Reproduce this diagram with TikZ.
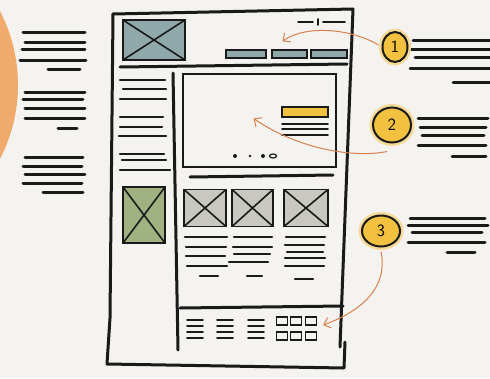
\documentclass[tikz,border=0pt]{standalone}
\usepackage{tikz}
\usetikzlibrary{arrows.meta,shapes.geometric}

\definecolor{paper}{HTML}{F4F3EF}
\definecolor{ink}{HTML}{1A1A1A}
\definecolor{slate}{HTML}{8FA9AB}
\definecolor{sage}{HTML}{A0B281}
\definecolor{stone}{HTML}{C9C8C0}
\definecolor{mustard}{HTML}{F2C13F}
\definecolor{glow}{HTML}{F8DA98}
\definecolor{rust}{HTML}{D8814F}
\definecolor{peach}{HTML}{F0AB6C}

\begin{document}
\begin{tikzpicture}[x=1pt,y=-1pt,
  frame/.style={ink,line width=3pt,line cap=round,line join=round},
  bar/.style={ink,line width=3pt,line cap=round},
  midbar/.style={ink,line width=2.3pt,line cap=round},
  thinbar/.style={ink,line width=1.6pt,line cap=round},
  ximg/.style={draw=ink,line width=1.8pt,inner sep=0pt,
    path picture={\draw[ink,line width=1.6pt]
      (path picture bounding box.south west) -- (path picture bounding box.north east)
      (path picture bounding box.north west) -- (path picture bounding box.south east);}},
  navbtn/.style={draw=ink,fill=slate,line width=1.3pt,inner sep=0pt,minimum height=8pt},
  tile/.style={draw=ink,line width=1.2pt,inner sep=0pt,minimum width=11pt,minimum height=8pt},
  badge/.style={ellipse,draw=ink,fill=mustard,line width=2pt,inner sep=0pt,
    font=\sffamily\LARGE,preaction={draw=glow,line width=7pt}},
  callout/.style={rust,line width=1pt,-{Straight Barb[length=6pt,width=11pt]}}]

% paper
\fill[paper] (0,0) rectangle (490,378);
\useasboundingbox (0,0) rectangle (490,378);
\clip (0,0) rectangle (490,378);
\fill[peach] (-142,85) circle (160);

% notes left and right
\foreach \y/\a/\b in {32/23/85,42/25/85,49/22/85,60/20/86,69/48/80,
  92/25/85,99/23/83,108/25/85,118/25/85,128/58/77,
  157/25/83,166/23/82,174/25/85,183/23/82,192/43/83}
  \draw[bar] (\a,\y) -- (\b,\y);
\foreach \y/\a/\b in {40/413/490,49/410/490,57/415/490,68/410/490,82/453/490,
  118/418/488,127/420/486,135/422/484,145/418/486,156/452/486,
  218/410/485,225/408/488,232/412/482,242/408/485,252/447/475}
  \draw[bar] (\a,\y) -- (\b,\y);

% page
\draw[frame] (113,14) -- (353,9) -- (340,347);
\draw[frame] (345,342) -- (344,368) -- (107,364) -- (110,318) -- (113,14);
\draw[frame] (120,67) -- (347,64);
\draw[frame] (173,73) -- (178,350);
\draw[frame] (180,308) -- (343,306);

% header
\node[ximg,fill=slate,minimum width=62pt,minimum height=40pt] (logo) at (154,40) {};
\node[navbtn,minimum width=40pt] (nav1) at (246,54) {};
\node[navbtn,minimum width=35pt] (nav2) at (289.5,54) {};
\node[navbtn,minimum width=36pt] (nav3) at (329,54) {};
\draw[thinbar] (298,22) -- (313,22) (318,19) -- (318,25) (323,22) -- (345,22);

% sidebar
\foreach \y/\a/\b in {80/120/165,89/123/166,99/120/166,117/120/163,127/120/162,
  136/119/166,154/120/164,160/122/166,170/120/170}
  \draw[midbar] (\a,\y) -- (\b,\y);
\node[ximg,fill=sage,minimum width=42pt,minimum height=56pt] (side) at (144,215) {};

% hero
\node[draw=ink,line width=2.6pt,minimum width=153pt,minimum height=93pt] (hero) at (259.5,120.5) {};
\draw[frame] (190,177) -- (333,175);
\node[draw=ink,fill=mustard,line width=1.3pt,inner sep=0pt,minimum width=46pt,minimum height=10pt] (cta) at (305,112) {};
\foreach \y in {124,129,135}
  \draw[thinbar] (282,\y) -- (328,\y);
\fill[ink] (235,156) circle (2) (250,156) circle (1.3) (263,156) circle (2);
\draw[ink,line width=1.2pt] (273,156) ellipse (3.5 and 2);

% products
\node[ximg,fill=stone,minimum width=42pt,minimum height=37pt] (prod1) at (205,208) {};
\node[ximg,fill=stone,minimum width=41pt,minimum height=37pt] (prod2) at (252.5,208) {};
\node[ximg,fill=stone,minimum width=44pt,minimum height=37pt] (prod3) at (306,208) {};
\foreach \y/\a/\b in {237/185/227,247/186/226,256/186/225,266/187/227,276/200/218,
  237/234/272,247/233/272,254/234/270,262/229/268,276/247/262,
  237/286/325,245/285/324,252/287/323,258/285/325,266/285/324,279/295/313}
  \draw[midbar] (\a,\y) -- (\b,\y);

% footer
\foreach \x in {187,217,248}
  \foreach \y in {320,326,332,338}
    \draw[thinbar] (\x,\y) -- ++(16,0);
\foreach \c/\x in {1/282,2/296,3/311}
  \foreach \r/\y in {1/321,2/336}
    \node[tile] (tile\r\c) at (\x,\y) {};

% callouts
\node[badge,minimum width=25pt,minimum height=30pt] (c1) at (395,47) {1};
\node[badge,minimum width=38pt,minimum height=35pt] (c2) at (392,125) {2};
\node[badge,minimum width=38pt,minimum height=31pt] (c3) at (381,231) {3};

\draw[callout] ([shift={(-3pt,2pt)}]c1.west) .. controls (350,28) and (305,25) .. ([shift={(11pt,8pt)}]nav2.north west);
\draw[callout] ([shift={(-5pt,-8pt)}]c2.south) .. controls (355,158) and (300,150) .. ([shift={(-6pt,2pt)}]hero.center);
\draw[callout] ([yshift=-4pt]c3.south) .. controls (388,285) and (365,310) .. ([shift={(6pt,-4pt)}]tile13.east);
\end{tikzpicture}
\end{document}
